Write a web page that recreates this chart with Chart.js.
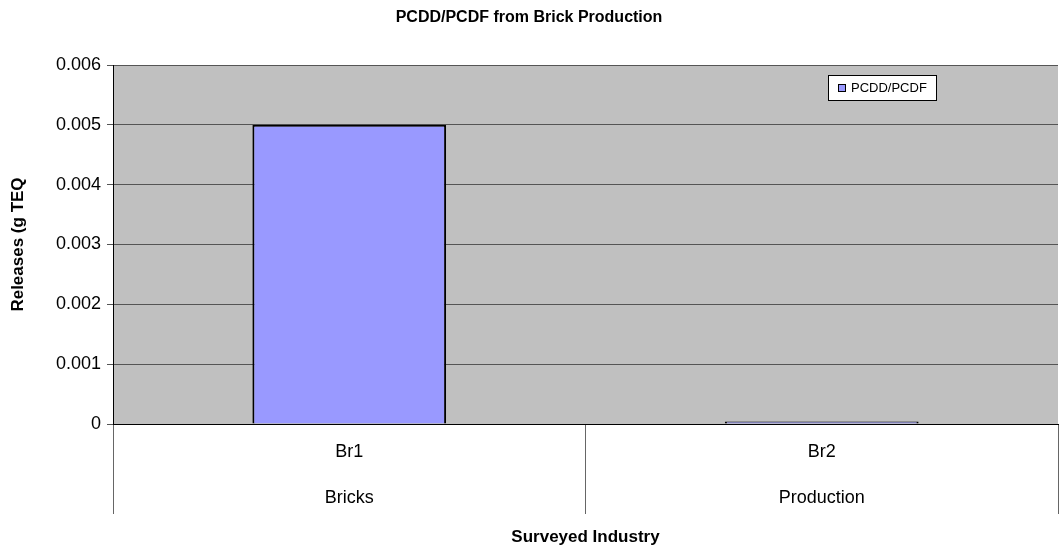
<!DOCTYPE html>
<html>
<head>
<meta charset="utf-8">
<script src="https://cdn.jsdelivr.net/npm/chart.js@4/dist/chart.umd.min.js"></script>
<style>
  html, body { margin: 0; padding: 0; background: #ffffff; }
  #wrap { width: 1059px; height: 550px; }
</style>
</head>
<body>
<div id="wrap"><canvas id="c" width="1059" height="550"></canvas></div>
<script>
const categories = ['Br1', 'Br2'];
const groups = ['Bricks', 'Production'];
const seriesName = 'PCDD/PCDF';
const seriesValues = [0.005, 0.00004];
const yTicks = [0, 0.001, 0.002, 0.003, 0.004, 0.005, 0.006];

const FONT = "'Liberation Sans', Arial, sans-serif";

const bgPlugin = {
  id: 'plotBg',
  beforeDraw(chart) {
    const { ctx, chartArea: a } = chart;
    ctx.save();
    ctx.fillStyle = '#ffffff';
    ctx.fillRect(0, 0, chart.width, chart.height);
    ctx.fillStyle = '#C0C0C0';
    ctx.fillRect(a.left, a.top, a.right - a.left, a.bottom - a.top);
    ctx.restore();
  }
};

const legendPlugin = {
  id: 'boxLegend',
  afterDraw(chart) {
    const ctx = chart.ctx;
    const x = 828.5, y = 75.5, w = 108, h = 25;
    ctx.save();
    ctx.fillStyle = '#ffffff';
    ctx.fillRect(x, y, w, h);
    ctx.strokeStyle = '#000000';
    ctx.lineWidth = 1;
    ctx.strokeRect(x, y, w, h);
    ctx.fillStyle = '#9999FF';
    ctx.fillRect(838.5, 84.5, 7, 7);
    ctx.strokeRect(838.5, 84.5, 7, 7);
    ctx.fillStyle = '#000000';
    ctx.font = "13px " + FONT;
    ctx.textBaseline = 'middle';
    ctx.textAlign = 'left';
    ctx.fillText(chart.data.datasets[0].label, 851, 88.5);
    ctx.restore();
  }
};

new Chart(document.getElementById('c'), {
  type: 'bar',
  data: {
    labels: categories.map((c, i) => [c, groups[i]]),
    datasets: [{
      label: seriesName,
      data: seriesValues,
      backgroundColor: '#9999FF',
      borderColor: '#000000',
      borderWidth: 2,
      categoryPercentage: 1.0,
      barPercentage: 0.41
    }]
  },
  options: {
    responsive: false,
    animation: false,
    devicePixelRatio: 1,
    layout: { padding: { left: 0, right: 1, top: 0, bottom: 0 } },
    plugins: {
      legend: { display: false },
      tooltip: { enabled: false },
      title: {
        display: true,
        text: 'PCDD/PCDF from Brick Production',
        color: '#000000',
        font: { family: FONT, size: 16, weight: 'bold', lineHeight: '18px' },
        padding: { top: 9, bottom: 38 }
      }
    },
    scales: {
      x: {
        offset: true,
        border: { display: true, color: '#000000', width: 1 },
        grid: {
          display: true,
          offset: true,
          drawOnChartArea: false,
          drawTicks: true,
          tickLength: 90,
          color: '#666666'
        },
        ticks: {
          color: '#000000',
          padding: -85,
          maxRotation: 0,
          autoSkip: false,
          font: { family: FONT, size: 18, lineHeight: '46px' }
        },
        title: {
          display: true,
          text: 'Surveyed Industry',
          color: '#000000',
          font: { family: FONT, size: 17, weight: 'bold', lineHeight: '18px' },
          padding: { top: 0, bottom: 4 }
        },
        afterFit(scale) { scale.height = 126; }
      },
      y: {
        min: 0,
        max: 0.006,
        afterBuildTicks(scale) { scale.ticks = yTicks.map(v => ({ value: v })); },
        border: { display: true, color: '#000000', width: 1 },
        grid: {
          display: true,
          color: '#555555',
          lineWidth: 1,
          drawTicks: true,
          tickLength: 6
        },
        ticks: {
          color: '#000000',
          padding: 6,
          font: { family: FONT, size: 18 },
          callback: (v) => v === 0 ? '0' : Number(v).toFixed(3)
        },
        title: {
          display: true,
          text: 'Releases (g TEQ',
          color: '#000000',
          font: { family: FONT, size: 17, weight: 'bold', lineHeight: '18px' },
          padding: { top: 9, bottom: 0 }
        },
        afterFit(scale) { scale.width = 113; }
      }
    }
  },
  plugins: [bgPlugin, legendPlugin]
});
</script>
</body>
</html>
